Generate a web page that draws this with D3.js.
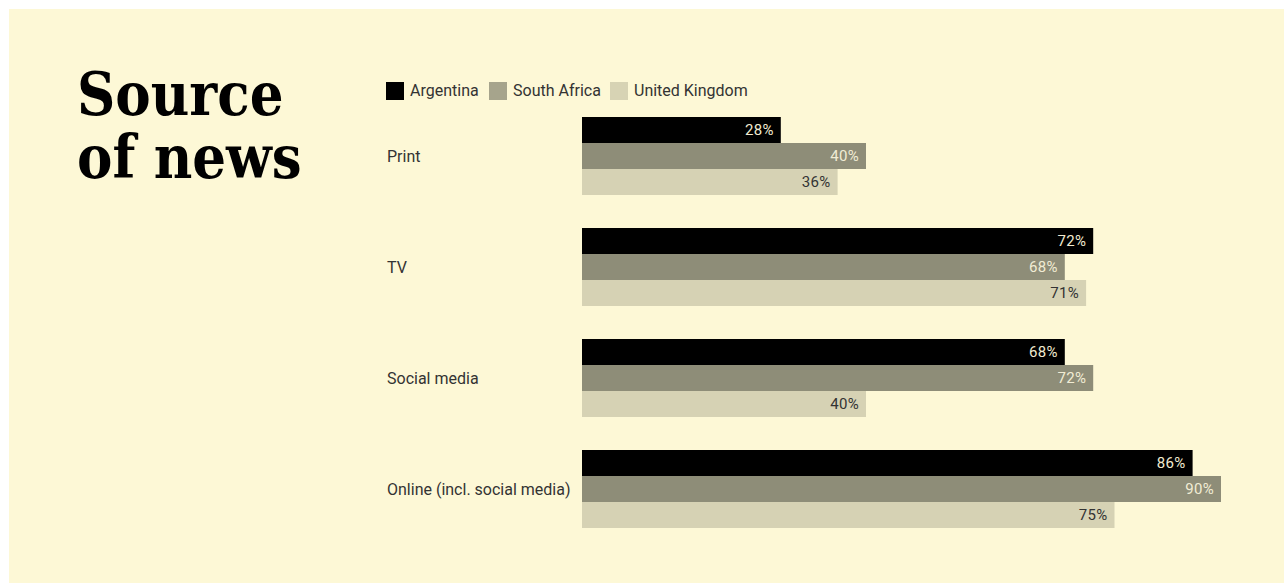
<!DOCTYPE html>
<html>
<head>
<meta charset="utf-8">
<script src="https://cdn.jsdelivr.net/npm/d3@7"></script>
<style>
  html, body { margin:0; padding:0; background:#fff; }
  svg { display:block; }
</style>
</head>
<body>
<div id="chart"></div>
<script>
/* Grouped horizontal bars: source of news by country. */
const categories = ['Print', 'TV', 'Social media', 'Online (incl. social media)'];
const countries = ['Argentina', 'South Africa', 'United Kingdom'];
const argentina = [28, 72, 68, 86];
const southAfrica = [40, 68, 72, 90];
const unitedKingdom = [36, 71, 40, 75];

const W = 1284, H = 583;
const barColor = { 'Argentina':'#000000', 'South Africa':'#8e8d78', 'United Kingdom':'#d6d2b4' };
const swatchColor = { 'Argentina':'#000000', 'South Africa':'#a6a48c', 'United Kingdom':'#d7d3b4' };
const labelColor = { 'Argentina':'#f1ead0', 'South Africa':'#f1ecd4', 'United Kingdom':'#333333' };

const rows = categories.map((c, i) => ({
  cat: c,
  values: [
    { country: countries[0], v: argentina[i] },
    { country: countries[1], v: southAfrica[i] },
    { country: countries[2], v: unitedKingdom[i] }
  ]
}));

const svg = d3.select('#chart').append('svg').attr('width', W).attr('height', H);
svg.append('rect').attr('x', 9).attr('y', 9).attr('width', W - 9).attr('height', H - 9).attr('fill', '#fdf8d6');

// title, one text per line
const titleLines = ['Source', 'of news'];
svg.append('g').selectAll('text').data(titleLines).join('text')
  .attr('x', 77).attr('y', (d, i) => 115 + i * 63)
  .style('font-family', '"DejaVu Serif", serif')
  .style('font-stretch', 'condensed')
  .style('font-weight', 700)
  .style('font-size', '59px')
  .style('fill', '#000')
  .text(d => d);

// scales
const y = d3.scaleBand().domain(categories).range([117, 528]).paddingInner(33 / 111).paddingOuter(0);
const ySub = d3.scaleBand().domain(countries).range([0, y.bandwidth()]);
const x = d3.scaleLinear().domain([0, 90]).range([582, 1221]);

// legend
const legendX = [386, 489, 610];
const legend = svg.append('g').selectAll('g').data(countries).join('g')
  .attr('transform', (d, i) => 'translate(' + legendX[i] + ',82)');
legend.append('rect').attr('width', 18).attr('height', 18).attr('fill', d => swatchColor[d]);
legend.append('text')
  .attr('x', 24).attr('y', 8.5).attr('dy', '0.35em')
  .style('font-family', 'Roboto, sans-serif').style('font-size', '16px').style('fill', '#333')
  .text(d => d);

// groups
const group = svg.append('g').selectAll('g').data(rows).join('g')
  .attr('transform', d => 'translate(0,' + y(d.cat) + ')');

group.append('text')
  .attr('x', 387).attr('y', y.bandwidth() / 2).attr('dy', '0.35em')
  .style('font-family', 'Roboto, sans-serif').style('font-size', '16px').style('fill', '#333')
  .text(d => d.cat);

const bar = group.selectAll('g.bar').data(d => d.values).join('g').attr('class', 'bar')
  .attr('transform', d => 'translate(0,' + ySub(d.country) + ')');

bar.append('rect')
  .attr('x', x(0))
  .attr('width', d => x(d.v) - x(0))
  .attr('height', ySub.bandwidth())
  .attr('fill', d => barColor[d.country]);

bar.append('text')
  .attr('x', d => x(d.v) - 7)
  .attr('y', ySub.bandwidth() / 2).attr('dy', '0.35em')
  .attr('text-anchor', 'end')
  .style('font-family', 'Roboto, sans-serif').style('font-size', '15px')
  .style('letter-spacing', '0.3px')
  .style('fill', d => labelColor[d.country])
  .text(d => d.v + '%');
</script>
</body>
</html>
